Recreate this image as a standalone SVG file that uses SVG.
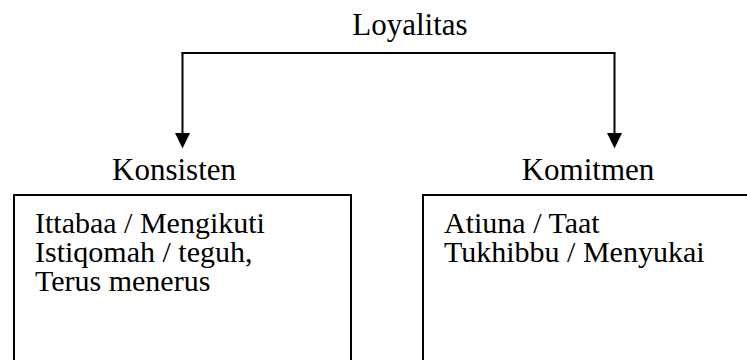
<svg xmlns="http://www.w3.org/2000/svg" width="747" height="360" viewBox="0 0 747 360">
  <style>
    text { font-family: "Liberation Serif", "Times New Roman", serif; fill: #000; }
    .title { font-size: 31px; }
    .body { font-size: 30px; }
    .box { fill: none; stroke: #000; stroke-width: 2; }
    .conn { fill: none; stroke: #000; stroke-width: 2; }
    .head { fill: #000; }
  </style>
  <rect width="747" height="360" fill="#fff"/>

  <g id="loyalitas">
    <text class="title" x="410" y="35" text-anchor="middle">Loyalitas</text>
  </g>

  <g id="connectors">
    <path class="conn" d="M182.5,53 L182.5,134"/>
    <path class="conn" d="M614.5,53 L614.5,134"/>
    <path class="conn" d="M181.5,53 L615.5,53"/>
    <path class="head" d="M175,133 L190,133 L182.5,148.5 Z"/>
    <path class="head" d="M607,133 L622,133 L614.5,148.5 Z"/>
  </g>

  <g id="konsisten">
    <text class="title" x="174" y="180" text-anchor="middle">Konsisten</text>
    <rect class="box" x="14" y="195" width="337" height="180"/>
    <text class="body" x="35" y="233">Ittabaa / Mengikuti</text>
    <text class="body" x="35" y="262">Istiqomah / teguh,</text>
    <text class="body" x="35" y="291">Terus menerus</text>
  </g>

  <g id="komitmen">
    <text class="title" x="588" y="180" text-anchor="middle">Komitmen</text>
    <rect class="box" x="423" y="195" width="340" height="180"/>
    <text class="body" x="444" y="233">Atiuna / Taat</text>
    <text class="body" x="444" y="262">Tukhibbu / Menyukai</text>
  </g>
</svg>
